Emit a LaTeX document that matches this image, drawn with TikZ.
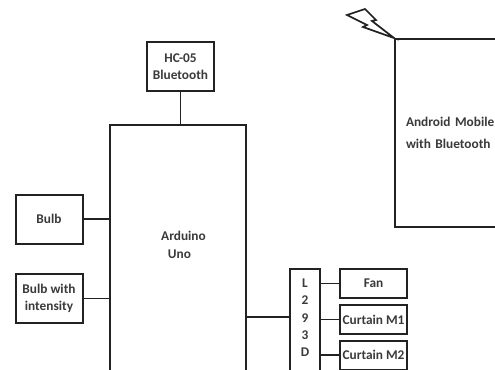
\documentclass[tikz,border=0pt]{standalone}
\usepackage{fontspec}
\setmainfont{Carlito}
\usetikzlibrary{shapes.geometric, positioning}
\definecolor{unit-ink}{HTML}{222222}
\definecolor{label-ink}{HTML}{3A3A3A}
\tikzset{
  unitfont/.style={text=label-ink, font=\fontsize{10}{13}\selectfont\bfseries},
  unitbox/.style={draw=unit-ink, line width=1.5pt, fill=white, inner sep=0pt,
    align=center, unitfont},
  smallbox/.style={unitbox, minimum width=50.25pt, minimum height=36.75pt},
  loadbox/.style={unitbox, minimum width=50.25pt, minimum height=21.75pt},
  wire/.style={draw=unit-ink, line width=1.4pt},
}
\begin{document}
\begin{tikzpicture}[x=0.75pt, y=-0.75pt]
  \useasboundingbox (0,0) rectangle (495,370);
  \fill[white] (0,0) rectangle (495,370);

  \node[unitbox, minimum width=102pt, minimum height=185.25pt] (arduino) at (178,248.5) {};
  \node[unitfont, align=left] (arduinotext) at (183.5,245) {Arduino\\\hspace*{5pt}Uno};
  \node[smallbox] (hc05) at (180.5,66.5) {HC-05\\Bluetooth};
  \node[smallbox] (bulb) at (49,219) {Bulb};
  \node[smallbox] (intensity) at (49,298.5) {Bulb with\\intensity};
  \node[unitbox, anchor=west, minimum width=87pt, minimum height=141pt, text width=70.5pt, align=left] (android) at (394,133) {Android Mobile\\[3pt]with Bluetooth};

  \node[unitbox, minimum width=22.5pt, minimum height=81pt] (l293d) at (305,323) {};
  \node[unitfont, align=center] (l293dtext) at (305,318) {L\\2\\9\\3\\D};
  \node[loadbox] (fan) at (373.5,283.5) {Fan};
  \node[loadbox] (curtain1) at (373.5,319.5) {Curtain M1};
  \node[loadbox] (curtain2) at (373.5,355) {Curtain M2};
  \coordinate (drive) at (290,317);

  \draw[wire] (hc05) -- (hc05 |- arduino.north);
  \draw[wire] (bulb) -- (bulb -| arduino.west);
  \draw[wire] (intensity) -- (intensity -| arduino.west);
  \draw[wire] (drive -| arduino.east) -- (drive);
  \draw[wire] (l293d.east |- fan) -- (fan);
  \draw[wire] (l293d.east |- curtain1) -- (curtain1);
  \draw[wire] (l293d.east |- curtain2) -- (curtain2);

  % signal mark at the corner of the phone
  \draw[unit-ink, line width=1.3pt, fill=white, line join=miter]
    (android.north west) -- (372,21) -- (376,20) -- (365,9) -- (347,15)
    -- (367,25) -- (363,27) -- cycle;
\end{tikzpicture}
\end{document}
